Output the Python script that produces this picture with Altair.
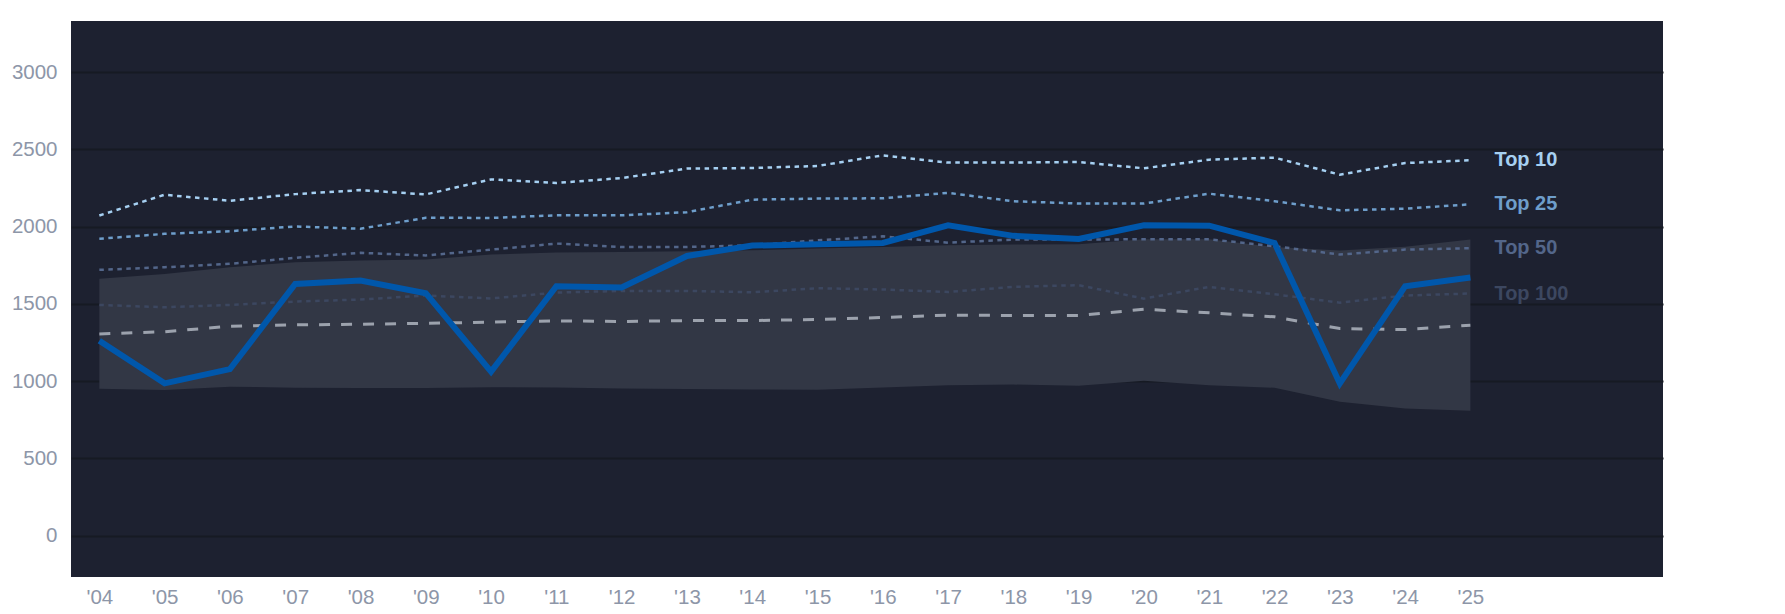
import altair as alt
import pandas as pd

years = list(range(2004, 2026))
you = [1262, 986, 1078, 1629, 1651, 1569, 1062, 1614, 1606, 1810, 1877, 1886, 1894, 2008, 1940, 1920, 2008, 2006, 1894, 985, 1614, 1670]
top10 = [2072, 2206, 2167, 2210, 2236, 2208, 2305, 2282, 2314, 2375, 2379, 2392, 2461, 2414, 2414, 2418, 2377, 2433, 2446, 2336, 2411, 2429]
top25 = [1921, 1953, 1970, 2001, 1986, 2057, 2056, 2073, 2073, 2093, 2174, 2181, 2183, 2218, 2164, 2149, 2149, 2213, 2164, 2105, 2116, 2144]
top50 = [1720, 1737, 1759, 1798, 1830, 1813, 1851, 1890, 1868, 1868, 1879, 1911, 1937, 1896, 1916, 1916, 1918, 1918, 1873, 1819, 1851, 1860]
top100 = [1493, 1478, 1493, 1515, 1528, 1554, 1535, 1573, 1584, 1584, 1575, 1601, 1593, 1577, 1610, 1621, 1534, 1610, 1562, 1508, 1554, 1567]
median = [1305, 1320, 1355, 1364, 1368, 1374, 1382, 1390, 1386, 1392, 1392, 1399, 1412, 1427, 1425, 1425, 1465, 1442, 1416, 1340, 1334, 1362]
band_hi = [1662, 1694, 1737, 1770, 1780, 1787, 1819, 1832, 1836, 1840, 1847, 1858, 1868, 1879, 1884, 1886, 1918, 1918, 1868, 1845, 1870, 1916]
band_lo = [951, 942, 964, 958, 955, 955, 961, 959, 952, 950, 946, 944, 959, 974, 978, 970, 1002, 974, 957, 866, 823, 808]

tier_names = ["Top 10", "Top 25", "Top 50", "Top 100"]
tier_colors = ["#a6d0f2", "#6e9ecb", "#53668a", "#3c4760"]

df = pd.DataFrame({
    "year": years, "you": you, "top10": top10, "top25": top25, "top50": top50,
    "top100": top100, "median": median, "lo": band_lo, "hi": band_hi,
})

FONT = "Liberation Sans"
xs = alt.Scale(domain=[2003.566, 2027.95], nice=False, zero=False)
ys = alt.Scale(domain=[-267, 3330], nice=False, zero=False)

xax = alt.Axis(values=years, format="d", labelExpr="\"'\" + slice(datum.label, 2)",
               title=None, grid=False, domain=False, ticks=False, tickSize=0,
               labelFontSize=20.5, labelColor="#8d96a8", labelPadding=10, labelFont=FONT)
yax = alt.Axis(values=[0, 500, 1000, 1500, 2000, 2500, 3000], format="d", title=None,
               domain=False, ticks=False, tickSize=0, labelFontSize=20.5,
               labelColor="#8d96a8", labelPadding=14, labelFont=FONT,
               gridColor="#161a23", gridWidth=2)

base = alt.Chart(df)
x = alt.X("year:Q", scale=xs, axis=xax)

band = base.mark_area(color="#323745", opacity=1).encode(
    x=x, y=alt.Y("lo:Q", scale=ys, axis=yax), y2="hi:Q")

def tier(field, color, width, dash):
    return base.mark_line(color=color, strokeWidth=width, strokeDash=dash).encode(
        x=alt.X("year:Q", scale=xs), y=alt.Y(f"{field}:Q", scale=ys))

l100 = tier("top100", tier_colors[3], 2.5, [4.5, 4.5])
l50 = tier("top50", tier_colors[2], 2.5, [4.5, 4.5])
l25 = tier("top25", tier_colors[1], 2.5, [4.5, 4.5])
l10 = tier("top10", tier_colors[0], 2.5, [4.5, 4.5])
lmed = tier("median", "#9ca2ad", 3, [11, 11])
lyou = base.mark_line(color="#0057ab", strokeWidth=6, strokeJoin="miter").encode(
    x=alt.X("year:Q", scale=xs), y=alt.Y("you:Q", scale=ys))

lab_df = pd.DataFrame({
    "year": [years[-1]] * 4,
    "value": [top10[-1], top25[-1], top50[-1], top100[-1]],
    "label": tier_names,
})
labels = alt.Chart(lab_df).mark_text(align="left", baseline="middle", dx=24,
                                     fontSize=20, fontWeight="bold", font=FONT).encode(
    x=alt.X("year:Q", scale=xs), y=alt.Y("value:Q", scale=ys), text="label:N",
    color=alt.Color("label:N", scale=alt.Scale(domain=tier_names, range=tier_colors), legend=None))

chart = alt.layer(band, l100, l50, l25, l10, lmed, lyou, labels).properties(
    width=1592, height=556,
    autosize=alt.AutoSizeParams(type="none"),
    padding={"left": 63, "top": 13, "right": 106, "bottom": 37},
    background="white",
).configure_view(fill="#1d2130", stroke=None)

chart.save("out.html", embed_options={"renderer": "svg", "actions": False})
